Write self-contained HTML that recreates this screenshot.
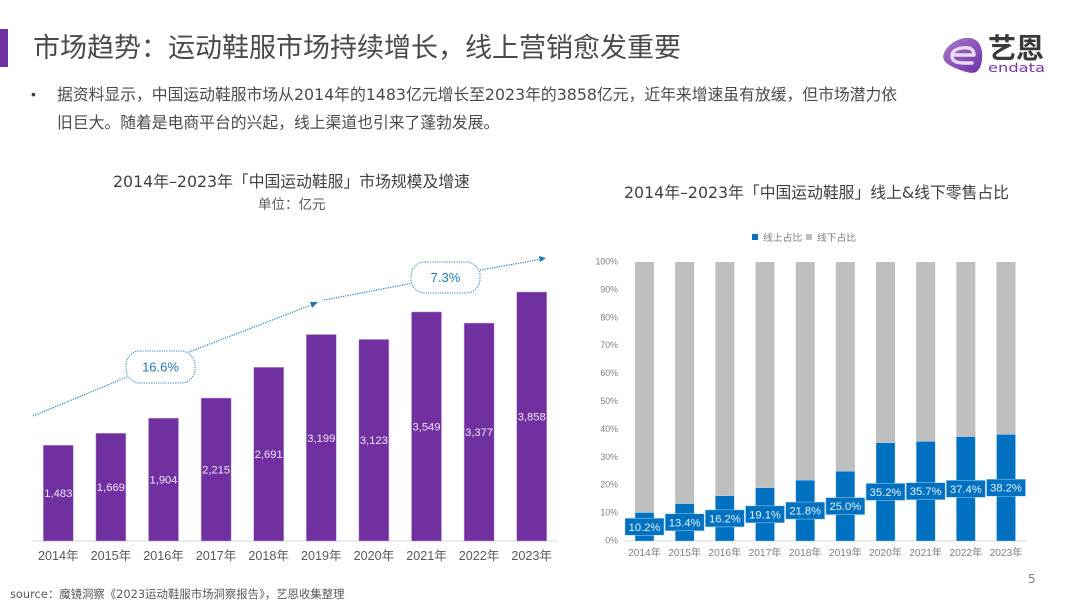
<!DOCTYPE html>
<html lang="zh-CN">
<head>
<meta charset="utf-8">
<title>市场趋势</title>
<style>
html,body{margin:0;padding:0;background:#fff;}
#page{position:relative;width:1080px;height:608px;overflow:hidden;background:#fff;font-family:"DejaVu Sans","Noto Sans CJK SC",sans-serif;color:#404040;}
.t{position:absolute;white-space:nowrap;margin:0;}
svg{position:absolute;left:0;top:0;}
svg text{font-family:"Liberation Sans","Noto Sans CJK SC",sans-serif;}
</style>
</head>
<body>
<div id="page">
  <div style="position:absolute;left:0;top:29px;width:8px;height:38px;background:#7030a0;"></div>
  <h1 class="t" style="left:33px;top:29px;font-size:27px;line-height:40px;font-weight:400;color:#4a4a4a;">市场趋势：运动鞋服市场持续增长，线上营销愈发重要</h1>
  <div class="t" style="left:31px;top:84px;font-size:14px;line-height:20px;font-family:'Liberation Sans',sans-serif;">•</div>
  <p class="t" style="left:57px;top:84px;font-size:15.8px;line-height:22px;color:#4a4a4a;">据资料显示，中国运动鞋服市场从2014年的1483亿元增长至2023年的3858亿元，近年来增速虽有放缓，但市场潜力依</p>
  <p class="t" style="left:57px;top:112px;font-size:15.8px;line-height:22px;color:#4a4a4a;">旧巨大。随着是电商平台的兴起，线上渠道也引来了蓬勃发展。</p>
  <div class="t" style="left:113px;top:171px;font-size:15.8px;line-height:22px;">2014年–2023年「中国运动鞋服」市场规模及增速</div>
  <div class="t" style="left:258px;top:195px;font-size:13.5px;line-height:20px;color:#595959;">单位：亿元</div>
  <div class="t" style="left:624px;top:182px;font-size:15.8px;line-height:22px;">2014年–2023年「中国运动鞋服」线上&amp;线下零售占比</div>

  <svg id="logo" width="1080" height="608" viewBox="0 0 1080 608">
    <defs>
      <linearGradient id="lg" x1="0" y1="0" x2="1" y2="1">
        <stop offset="0" stop-color="#a77bc8"/>
        <stop offset="1" stop-color="#7030a8"/>
      </linearGradient>
    </defs>
    <path d="M944 60 C942 56 944 52 947 48 C953 41 962 37 970 38 C977 39 981 44 982 52 C983 60 981 69 976 72 C972 74 966 72 960 70 C953 67 947 65 944 60 Z" fill="url(#lg)"/>
    <path d="M974 55 L954 55 M974 55 C974 49 970 47 962 48 C955 49 952 52 952 56 C952 61 956 63 964 63 L972 63" fill="none" stroke="#e8dcf2" stroke-width="3.4" stroke-linecap="round"/>
    <text x="988" y="58" font-size="28" font-weight="700" fill="#3a3a3a" style="font-family:'Noto Sans CJK SC',sans-serif;">艺恩</text>
    <text x="988" y="72" font-size="12.5" fill="#7a35ad" textLength="57" lengthAdjust="spacingAndGlyphs" style="font-family:'DejaVu Sans',sans-serif;">endata</text>
  </svg>

  <svg id="left-chart" width="1080" height="608" viewBox="0 0 1080 608"></svg>
  <svg id="right-chart" width="1080" height="608" viewBox="0 0 1080 608"></svg>

  <div class="t" style="left:10px;top:586px;font-size:11.4px;line-height:16px;color:#595959;">source：魔镜洞察《2023运动鞋服市场洞察报告》，艺恩收集整理</div>
  <div class="t" style="left:1028px;top:570px;font-size:12px;line-height:18px;color:#7f7f7f;">5</div>
</div>

<script>
var years = ['2014年','2015年','2016年','2017年','2018年','2019年','2020年','2021年','2022年','2023年'];
var marketSize = [1483,1669,1904,2215,2691,3199,3123,3549,3377,3858];
var onlineShare = [10.2,13.4,16.2,19.1,21.8,25.0,35.2,35.7,37.4,38.2];
var shareTicks = [0,10,20,30,40,50,60,70,80,90,100];
var growthLabels = ['16.6%','7.3%'];

var NS = 'http://www.w3.org/2000/svg';
function make(parent, tag, attrs, text) {
  var el = document.createElementNS(NS, tag);
  for (var k in attrs) { el.setAttribute(k, attrs[k]); }
  if (text !== undefined) { el.textContent = text; }
  parent.appendChild(el);
  return el;
}

/* Left chart axes */
var left = document.getElementById('left-chart');
var leftBase = 541;
var leftScaleMax = 3858;
var leftPixelsAtMax = 249;
function leftX(i) { return 58.3 + i * 52.6; }
function leftH(v) { return v / leftScaleMax * leftPixelsAtMax; }

var leftAxis = make(left, 'line', {x1:32, x2:558, y1:leftBase, y2:leftBase, stroke:'#e0e0e0', 'stroke-width':1.2});



marketSize.forEach(function (v, i) {
  var h = leftH(v);
  var bar = make(left, 'rect', {x:leftX(i) - 15, y:leftBase - h, width:30, height:h, fill:'#7030a0', stroke:'#c9a5e2', 'stroke-width':0.5});
  
  
  var label = make(left, 'text', {x:leftX(i), y:leftBase - h / 2 + 4, 'font-size':11.2, fill:'#f2e8fa', 'text-anchor':'middle'}, v.toLocaleString('en-US'));
  
  
  var tick = make(left, 'text', {x:leftX(i), y:560, 'font-size':12.6, fill:'#595959', 'text-anchor':'middle'}, years[i]);
  
  
});

/* Growth-rate annotations */
var trend1 = make(left, 'path', {d:'M33 416 L127 377 M189 352 L310 305.5', fill:'none', stroke:'#2a7fc0', 'stroke-width':1.2, 'stroke-dasharray':'1.2 1.2'});


var head1 = make(left, 'path', {d:'M318 302 L310 302 L312 308 Z', fill:'#1f77b8'});


var trend2 = make(left, 'path', {d:'M324 300 L411 283.5 M480 270 L540 259.5', fill:'none', stroke:'#2a7fc0', 'stroke-width':1.2, 'stroke-dasharray':'1.2 1.2'});


var head2 = make(left, 'path', {d:'M546 258 L539 256 L540 262 Z', fill:'#1f77b8'});



var pill1 = make(left, 'rect', {x:126, y:351, width:69, height:32, rx:14, fill:'#fff', stroke:'#2a7fc0', 'stroke-width':1, 'stroke-dasharray':'1.2 1.2'});


var pillText1 = make(left, 'text', {x:160.5, y:371.5, 'font-size':13, fill:'#1f77b8', 'text-anchor':'middle'}, growthLabels[0]);


var pill2 = make(left, 'rect', {x:411, y:262, width:69, height:31, rx:14, fill:'#fff', stroke:'#2a7fc0', 'stroke-width':1, 'stroke-dasharray':'1.2 1.2'});


var pillText2 = make(left, 'text', {x:445.5, y:282, 'font-size':13, fill:'#1f77b8', 'text-anchor':'middle'}, growthLabels[1]);



/* Right chart axes */
var right = document.getElementById('right-chart');
var rightBase = 541;
var rightTop = 262;
function rightX(i) { return 644.5 + i * 40.17; }
function rightY(p) { return rightBase - p / 100 * (rightBase - rightTop); }

shareTicks.forEach(function (p) {
  var t = make(right, 'text', {x:618, y:rightY(p) + 2.5, 'font-size':8.8, fill:'#7f7f7f', 'text-anchor':'end'}, p + '%');
  
  
});

var rightAxis = make(right, 'line', {x1:624, x2:1027, y1:rightBase, y2:rightBase, stroke:'#e0e0e0', 'stroke-width':1.2});



onlineShare.forEach(function (p, i) {
  var x = rightX(i);
  var gray = make(right, 'rect', {x:x - 9.5, y:rightTop, width:19, height:rightY(p) - rightTop, fill:'#bfbfbf'});
  
  
  var blue = make(right, 'rect', {x:x - 9.5, y:rightY(p), width:19, height:rightBase - rightY(p), fill:'#0070c0', stroke:'#bfe3f7', 'stroke-width':0.4});
  
  
  var mid = (rightY(p) + rightBase) / 2;
  var box = make(right, 'rect', {x:x - 19.5, y:mid - 8.5, width:39, height:17, fill:'#0070c0', stroke:'#a9d5f0', 'stroke-width':0.5});
  
  
  var val = make(right, 'text', {x:x, y:mid + 4, 'font-size':11.2, fill:'#e6f3fc', 'text-anchor':'middle'}, p.toFixed(1) + '%');
  
  
  var tick = make(right, 'text', {x:x, y:556, 'font-size':10.2, fill:'#7f7f7f', 'text-anchor':'middle'}, years[i]);
  
  
});

var swatchOn = make(right, 'rect', {x:752, y:234, width:6, height:6, fill:'#0070c0'});


var legendOn = make(right, 'text', {x:763, y:241, 'font-size':9.8, fill:'#7f7f7f'}, '线上占比');


var swatchOff = make(right, 'rect', {x:806, y:234, width:6, height:6, fill:'#bfbfbf'});


var legendOff = make(right, 'text', {x:817, y:241, 'font-size':9.8, fill:'#7f7f7f'}, '线下占比');


</script>
</body>
</html>
